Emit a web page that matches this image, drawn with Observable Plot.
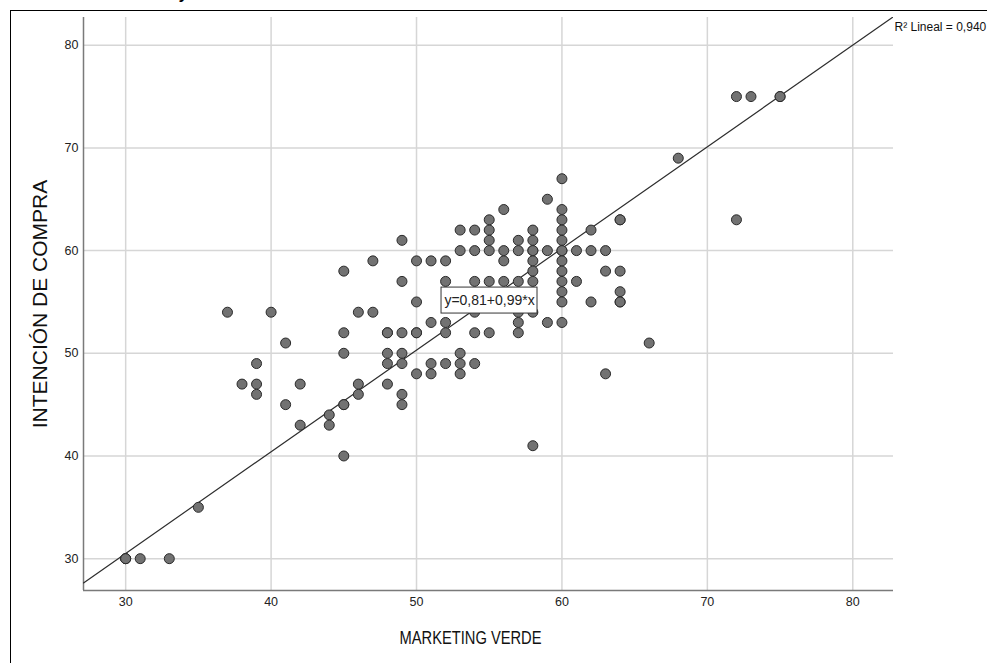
<!DOCTYPE html>
<html><head><meta charset="utf-8">
<script src="https://cdn.jsdelivr.net/npm/d3@7"></script>
<script src="https://cdn.jsdelivr.net/npm/@observablehq/plot@0.6"></script>
<style>
html,body{margin:0;padding:0;background:#fff;overflow:hidden;}
#wrap{position:relative;width:987px;height:663px;overflow:hidden;}
#chart{position:absolute;left:0;top:0;}
#frame{position:absolute;left:10px;top:10px;width:990px;height:670px;border-left:1px solid #000;border-top:1px solid #000;pointer-events:none;}
#frag{position:absolute;left:180px;top:-14px;font:italic bold 16px "Liberation Sans",Arial,sans-serif;line-height:16px;}
</style></head><body>
<div id="wrap"><div id="chart"></div><div id="frag">y</div><div id="frame"></div></div>
<script>
// MARKETING VERDE (x) and INTENCIÓN DE COMPRA (y), one entry per respondent
const marketing = [
  30,30,30, 31, 33, 35, 37, 38, 39,39,39, 40, 41,41, 42,42, 44,44,
  45,45,45,45,45,45, 46,46,46, 47,47, 48,48,48,48,48,
  49,49,49,49,49,49,49, 50,50,50,50,50, 51,51,51,51, 52,52,52,52,52,
  53,53,53,53,53, 54,54,54,54,54,54, 55,55,55,55,55,55, 56,56,56,56,
  57,57,57,57,57,57, 58,58,58,58,58,58,58,58,58, 59,59,59,
  60,60,60,60,60,60,60,60,60,60,60,60,60, 61,61, 62,62,62, 63,63,63,
  64,64,64,64,64,64, 66, 68, 72,72, 73, 75,75
];
const intencion = [
  30,30,30, 30, 30, 35, 54, 47, 49,47,46, 54, 51,45, 47,43, 44,43,
  58,52,50,45,45,40, 54,47,46, 59,54, 52,52,50,49,47,
  61,57,52,50,49,46,45, 59,55,52,52,48, 59,53,49,48, 59,57,53,52,49,
  62,60,50,49,48, 62,60,57,54,52,49, 63,62,61,60,57,52, 64,60,59,57,
  61,60,57,54,53,52, 62,61,60,60,59,58,57,54,41, 65,60,53,
  67,64,63,62,61,60,60,59,58,57,56,55,53, 60,57, 62,60,55, 60,58,48,
  63,63,58,56,55,55, 51, 69, 75,63, 75, 75,75
];
const xTicks = [30, 40, 50, 60, 70, 80];
const yTicks = [30, 40, 50, 60, 70, 80];
const xDomain = [27.1, 82.8];
const yDomain = [26.9, 82.7];
const intercept = 0.81;
const slope = 0.99;
const eqLabel = "y=0,81+0,99*x";
const r2Label = "R² Lineal = 0,940";
const xTitle = "MARKETING VERDE";
const yTitle = "INTENCIÓN DE COMPRA";

const points = marketing.map((m, i) => ({m, c: intencion[i]}));
const fit = xDomain.map(x => ({x, y: intercept + slope * x}));

const font = "'Liberation Sans', Arial, Helvetica, sans-serif";

const chart = Plot.plot({
  width: 987,
  height: 663,
  marginLeft: 83,
  marginRight: 94,
  marginTop: 17,
  marginBottom: 73,
  style: {fontFamily: font, fontSize: "12.5px", color: "#222", background: "transparent", overflow: "visible"},
  x: {domain: xDomain, ticks: xTicks, tickSize: 0, tickPadding: 7, label: null},
  y: {domain: yDomain, ticks: yTicks, tickSize: 0, tickPadding: 5, label: null},
  marks: [
    Plot.ruleX(xTicks, {stroke: "#d6d6d6", strokeWidth: 1.5}),
    Plot.ruleY(yTicks, {stroke: "#d6d6d6", strokeWidth: 1.5}),
    Plot.ruleX([xDomain[0]], {stroke: "#7a7a7a", strokeWidth: 1.5}),
    Plot.ruleY([yDomain[0]], {stroke: "#7a7a7a", strokeWidth: 1.5}),
    Plot.line(fit, {x: "x", y: "y", stroke: "#2e2e2e", strokeWidth: 1.2, clip: true}),
    Plot.dot(points, {x: "m", y: "c", r: 5, fill: "#727272", stroke: "#2a2a2a", strokeWidth: 1}),
    Plot.rect([eqLabel], {x1: 51.72, x2: 58.32, y1: 53.87, y2: 56.4, fill: "white", stroke: "#333", strokeWidth: 1}),
    Plot.text([eqLabel], {x: 55.02, y: 55.14, text: d => d, fontSize: 14, fill: "#222", textAnchor: "middle", lineAnchor: "middle"}),
    Plot.text([r2Label], {x: xDomain[1], y: 81.72, text: d => d, dx: 1, fontSize: 12, fill: "#111", textAnchor: "start", lineAnchor: "middle"}),
    Plot.text([xTitle], {frameAnchor: "bottom", text: d => d, dx: -18, dy: 48, fontSize: 18, fill: "#111", textAnchor: "middle", lineAnchor: "middle"}),
    Plot.text([yTitle], {frameAnchor: "left", text: d => d, dx: -43, rotate: -90, fontSize: 21, fill: "#111", textAnchor: "middle", lineAnchor: "middle"})
  ]
});
document.getElementById("chart").appendChild(chart);
d3.select(chart).selectAll("text")
  .filter(function () { return this.textContent === xTitle; })
  .attr("textLength", 142).attr("lengthAdjust", "spacingAndGlyphs");
</script>
</body></html>
